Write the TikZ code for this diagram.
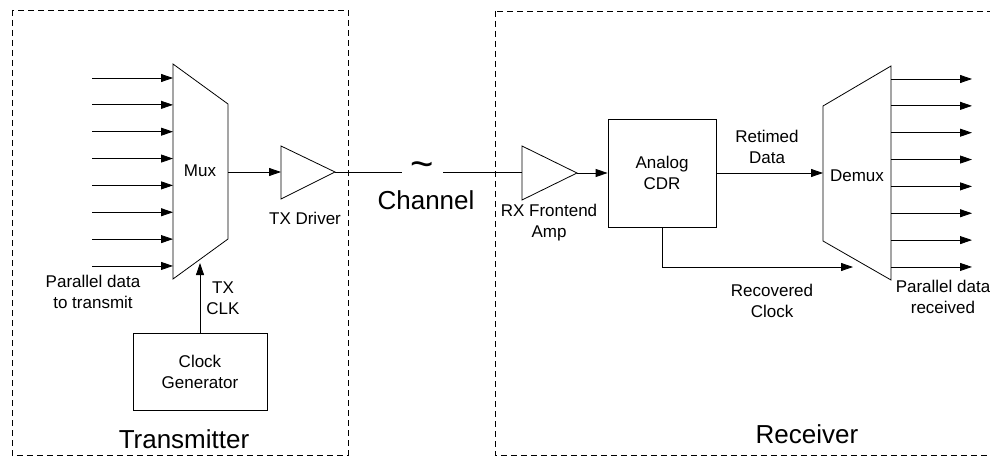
\documentclass[tikz,border=0pt]{standalone}
\usepackage{fontspec}
\setmainfont{Liberation Sans}
\usetikzlibrary{arrows.meta}
\begin{document}
\begin{tikzpicture}[x=1pt,y=-1pt,line width=0.8pt,
  arr/.style={-{Triangle[length=12pt,width=8pt]}},
  lbl/.style={font=\fontsize{17}{21}\selectfont,align=center,inner sep=0pt},
  big/.style={font=\fontsize{26}{30}\selectfont,inner sep=0pt},
  frame/.style={dash pattern=on 6pt off 4pt,line width=0.8pt},
  blk/.style={draw,line width=0.8pt,inner sep=0pt}]
\useasboundingbox (0,0) rectangle (990,457);
% frames
\draw[frame] (12,10) rectangle (348,455);
\draw[frame] (495,11) rectangle (1000,455);
\node[big,anchor=base] (txlabel) at (184,448) {Transmitter};
\node[big,anchor=base] (rxlabel) at (807,443) {Receiver};
% Mux
\coordinate (muxA) at (173,64);
\coordinate (muxB) at (228,104);
\coordinate (muxC) at (228,239);
\coordinate (muxD) at (173,279);
\draw (muxA) -- (muxB) -- (muxC) -- (muxD) -- cycle;
\node[lbl,anchor=base] (mux) at (200,177) {Mux};
\coordinate (muxout) at (228,172);
\coordinate (muxclk) at (200,263);
\foreach \i in {0,...,7}{
  \coordinate (in\i) at (92,{78+26.85*\i});
  \coordinate (mi\i) at (173,{78+26.85*\i});
  \draw[arr] (in\i) -- (mi\i);
}
\node[lbl] (pdt) at (93,292) {Parallel data\\to transmit};
% TX driver
\coordinate (txl) at (281,172);
\coordinate (txo) at (335,172);
\draw (281,146) -- (txo) -- (281,199) -- cycle;
\draw[arr] (muxout) -- (txl);
\node[lbl,anchor=base] (txd) at (305,224) {TX Driver};
% clock generator
\node[blk,minimum width=134pt,minimum height=77pt,lbl] (clk) at (200,371.5) {Clock\\Generator};
\draw[arr] (clk.north) -- (muxclk);
\node[lbl] (txclk) at (223,298) {TX\\CLK};
% channel
\coordinate (ch1) at (402,172);
\coordinate (ch2) at (443,172);
\draw (txo) -- (ch1);
\node[font=\fontsize{40}{40}\selectfont,inner sep=0pt] (tilde) at (422,170) {\textasciitilde};
\node[big,anchor=base] (chan) at (426,210) {Channel};
% RX amp
\coordinate (rxl) at (522,172);
\coordinate (rxo) at (577,173);
\draw (ch2) -- (rxl);
\draw (522,146) -- (rxo) -- (522,200) -- cycle;
\node[lbl] (rxa) at (549,223) {RX Frontend\\Amp};
% CDR
\node[blk,minimum width=108pt,minimum height=108pt,lbl] (cdr) at (662,173) {Analog\\CDR};
\draw[arr] (rxo) -- (cdr.west);
% Demux
\coordinate (dmA) at (823,106);
\coordinate (dmB) at (891,66);
\coordinate (dmC) at (891,280);
\coordinate (dmD) at (823,241);
\draw (dmA) -- (dmB) -- (dmC) -- (dmD) -- cycle;
\node[lbl,anchor=base] (demux) at (857,182) {Demux};
\coordinate (dmin) at (823,173);
\draw[arr] (cdr.east) -- (dmin);
\node[lbl] (ret) at (767,147) {Retimed\\Data};
\foreach \i in {0,...,7}{
  \coordinate (do\i) at (891,{79+26.85*\i});
  \coordinate (out\i) at (972,{79+26.85*\i});
  \draw[arr] (do\i) -- (out\i);
}
\node[lbl] (pdr) at (943,297) {Parallel data\\received};
% recovered clock
\coordinate (rclk) at (853,267);
\draw[arr] (cdr.south) |- (rclk);
\node[lbl] (rec) at (772,301) {Recovered\\Clock};
\end{tikzpicture}
\end{document}
